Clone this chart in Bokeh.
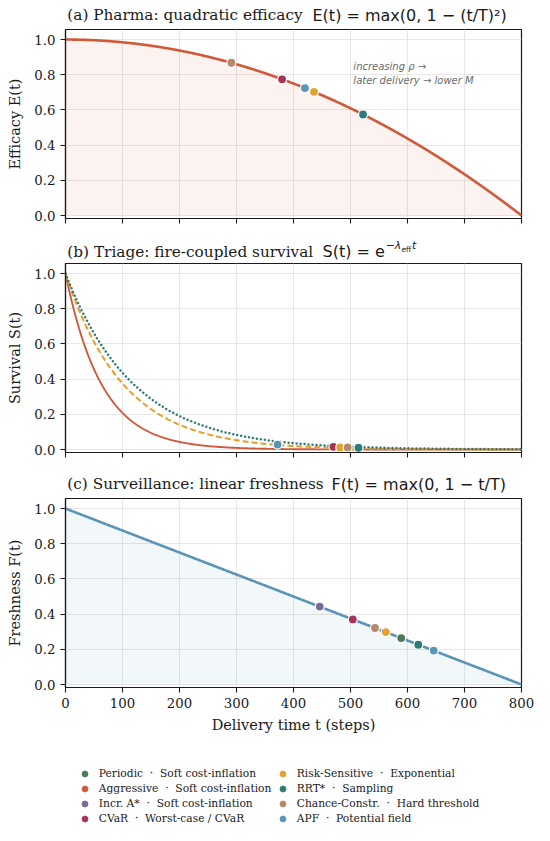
import numpy as np
from bokeh.plotting import figure
from bokeh.models import (Label, Legend, LegendItem, FixedTicker, Range1d,
                          NumeralTickFormatter, ColumnDataSource)
from bokeh.layouts import column
from bokeh.embed import file_html
from bokeh.resources import INLINE
from bokeh.core.properties import value

# ---------------- data ----------------
T_HORIZON = 800

methods = ["Periodic", "Aggressive", "Incr. A*", "CVaR",
           "Risk-Sensitive", "RRT*", "Chance-Constr.", "APF"]
families = ["Soft cost-inflation", "Soft cost-inflation", "Soft cost-inflation",
            "Worst-case / CVaR", "Exponential", "Sampling", "Hard threshold",
            "Potential field"]
method_colors = ["#4a7c59", "#d0593a", "#7b6a96", "#a6345a",
                 "#e4a12e", "#2d7b78", "#b38a6b", "#5a94b6"]

# (a) pharma: delivery times and efficacy of each method
pharma_methods = ["Chance-Constr.", "CVaR", "APF", "Risk-Sensitive", "RRT*"]
pharma_t = [291, 380, 420, 436, 522]
pharma_E = [0.868, 0.774, 0.724, 0.703, 0.574]

# (b) triage: effective hazard rates of the three survival curves
triage_curve_methods = ["Aggressive", "Risk-Sensitive", "RRT*"]
triage_lambda_eff = [0.0157, 0.0098, 0.0083]
triage_methods = ["APF", "CVaR", "Risk-Sensitive", "Chance-Constr.", "RRT*"]
triage_t = [372, 470, 482, 495, 514]
triage_S = [0.028, 0.015, 0.012, 0.012, 0.010]

# (c) surveillance
surv_methods = ["Incr. A*", "CVaR", "Chance-Constr.", "Risk-Sensitive",
                "Periodic", "RRT*", "APF"]
surv_t = [446, 504, 543, 562, 589, 619, 646]
surv_F = [0.443, 0.370, 0.321, 0.298, 0.264, 0.226, 0.193]

x_ticks = [0, 100, 200, 300, 400, 500, 600, 700, 800]
y_ticks = [0.0, 0.2, 0.4, 0.6, 0.8, 1.0]

# ---------------- styling ----------------
SERIF = "DejaVu Serif"
SANS = "DejaVu Sans"
INK = "#1a1a1a"
color_of = dict(zip(methods, method_colors))
W = 534
FL = 65          # frame left
FW, FH = 456, 189


def base_fig(ylabel, min_bottom, show_x_labels):
    p = figure(frame_width=FW, frame_height=FH,
               x_range=Range1d(0, T_HORIZON), y_range=Range1d(-0.017, 1.057),
               output_backend="svg", toolbar_location=None,
               min_border_left=FL, min_border_right=W - FL - FW,
               min_border_top=1, min_border_bottom=min_bottom,
               background_fill_color="white", border_fill_color="white")
    p.outline_line_color = INK
    p.outline_line_width = 1.2
    p.outline_line_alpha = 1.0
    p.xaxis.ticker = FixedTicker(ticks=x_ticks)
    p.yaxis.ticker = FixedTicker(ticks=y_ticks)
    p.yaxis.formatter = NumeralTickFormatter(format="0.0")
    for ax in p.axis:
        ax.axis_line_color = INK
        ax.axis_line_width = 1.2
        ax.major_tick_line_color = INK
        ax.major_tick_line_width = 1.1
        ax.major_tick_in = 0
        ax.major_tick_out = 5
        ax.minor_tick_line_color = None
        ax.major_label_text_font = SERIF
        ax.major_label_text_font_size = "13.3px"
        ax.major_label_text_color = INK
        ax.major_label_standoff = 5
        ax.axis_label_text_font = SERIF
        ax.axis_label_text_font_size = "14.5px"
        ax.axis_label_text_font_style = "normal"
        ax.axis_label_text_color = INK
    p.yaxis.axis_label = ylabel
    p.yaxis.axis_label_standoff = 8
    if not show_x_labels:
        p.xaxis.major_label_text_font_size = "0px"
        p.xaxis.major_label_text_color = None
        p.xaxis.major_label_standoff = 0
    p.grid.grid_line_color = "#e4e4e4"
    p.grid.grid_line_width = 0.9
    return p


def strip(height):
    # text strip; its frame lines up with the panels' frames (left edge = FL)
    s = figure(width=W, height=height, x_range=Range1d(0, 1), y_range=Range1d(0, 1),
               output_backend="svg", toolbar_location=None,
               x_axis_location=None, y_axis_location=None,
               min_border=0, min_border_left=0, min_border_right=0,
               min_border_top=0, min_border_bottom=0,
               background_fill_color="white", border_fill_color="white")
    s.grid.visible = False
    s.outline_line_color = None
    return s


def add_text(p, x, y, text, font, size, style="normal", color=INK,
             baseline="middle", align="left"):
    p.add_layout(Label(x=x, y=y, x_units="screen", y_units="screen", text=text,
                       text_font=font, text_font_size=size, text_font_style=style,
                       text_color=color, text_baseline=baseline, text_align=align))


t = np.linspace(0, T_HORIZON, 801)
TITLE_SIZE = "15.3px"
FORM_SIZE = "16px"

# ---------------- (a) pharma ----------------
ta = strip(28)
add_text(ta, 1.8, 13.5, "(a) Pharma: quadratic efficacy", SERIF, TITLE_SIZE)
add_text(ta, 247, 13.5, "E(t) = max(0, 1 − (t/T)²)", SANS, FORM_SIZE)

pa = base_fig("Efficacy E(t)", 22, False)
E = np.clip(1 - (t / T_HORIZON) ** 2, 0, None)
red = color_of["Aggressive"]
pa.varea(x=t, y1=0, y2=E, fill_color=red, fill_alpha=0.07)
pa.line(t, E, line_color=red, line_width=2.6)
pa.scatter(pharma_t, pharma_E, size=9,
           fill_color=[color_of[m] for m in pharma_methods],
           line_color="white", line_width=1.2)
pa.add_layout(Label(x=505, y=0.878, text="increasing ρ →\nlater delivery → lower M",
                    text_font=SANS, text_font_style="italic", text_font_size="10px",
                    text_color="#6a6a6a", text_baseline="top", text_line_height=1.26))

# ---------------- (b) triage ----------------
tb = strip(22)
add_text(tb, 1.8, 11, "(b) Triage: fire-coupled survival", SERIF, TITLE_SIZE)
add_text(tb, 257, 11, "S(t) = e", SANS, FORM_SIZE)
add_text(tb, 320.3, 16.8, "−λ", SANS, "10.8px", style="italic")
add_text(tb, 336.0, 13.4, "eff", SANS, "7.5px")
add_text(tb, 346.5, 16.8, "t", SANS, "10.8px", style="italic")

pb = base_fig("Survival S(t)", 23, False)
dash_styles = ["solid", "6 3", "0 4"]
caps = ["round", "butt", "round"]
widths = [1.9, 2.1, 2.5]
for m, lam, dsh, cap, w in zip(triage_curve_methods, triage_lambda_eff,
                               dash_styles, caps, widths):
    S = np.exp(-lam * t)
    pb.line(t, S, line_color=color_of[m], line_width=w, line_dash=dsh, line_cap=cap)
pb.scatter(triage_t, triage_S, size=9,
           fill_color=[color_of[m] for m in triage_methods],
           line_color="white", line_width=1.2)

# ---------------- (c) surveillance ----------------
tc = strip(22)
add_text(tc, 1.8, 13.5, "(c) Surveillance: linear freshness", SERIF, TITLE_SIZE)
add_text(tc, 266, 13.5, "F(t) = max(0, 1 − t/T)", SANS, FORM_SIZE)

pc = base_fig("Freshness F(t)", 50, True)
pc.xaxis.axis_label = "Delivery time t (steps)"
pc.xaxis.axis_label_standoff = 6
F = np.clip(1 - t / T_HORIZON, 0, None)
blue = color_of["APF"]
pc.varea(x=t, y1=0, y2=F, fill_color=blue, fill_alpha=0.08)
pc.line(t, F, line_color=blue, line_width=2.6)
for m, col in zip(methods, method_colors):
    sel = [i for i, mm in enumerate(surv_methods) if mm == m]
    if not sel:
        continue
    src = ColumnDataSource(dict(t=[surv_t[i] for i in sel], F=[surv_F[i] for i in sel]))
    pc.scatter("t", "F", source=src, size=9, fill_color=col,
               line_color="white", line_width=1.2)

# ---------------- legend strip ----------------
LH = 88
lg = strip(LH)
legend_items = []
for m, fam, col in zip(methods, families, method_colors):
    # legend-only glyph: a single undefined (NaN) point, never drawn in the strip
    r = lg.scatter(x=np.array([np.nan]), y=np.array([np.nan]), size=9,
                   fill_color=col, line_color=col, line_width=0.8)
    legend_items.append(LegendItem(label=value(f"{m}  ·  {fam}"), renderers=[r]))

leg = Legend(items=legend_items, location=(11.8, -0.5), ncols=2,
             orientation="vertical")
leg.label_text_font = SERIF
leg.label_text_font_size = "10.7px"
leg.label_text_color = INK
leg.glyph_width = 15
leg.glyph_height = 15
leg.label_height = 15
leg.spacing = 0
leg.label_standoff = 7
leg.label_width = 176
leg.padding = 0
leg.margin = 0
leg.border_line_color = None
leg.background_fill_alpha = 0
lg.add_layout(leg)

layout = column(ta, pa, tb, pb, tc, pc, lg, spacing=0)
with open("out.html", "w", encoding="utf-8") as fh:
    fh.write(file_html(layout, INLINE))
